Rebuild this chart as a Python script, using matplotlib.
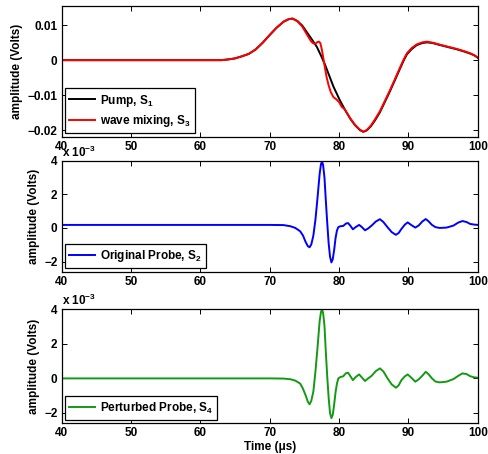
import numpy as np
import matplotlib
matplotlib.use('Agg')
import matplotlib.pyplot as plt

plt.rcParams['font.family'] = ['Liberation Sans', 'DejaVu Sans']
plt.rcParams['font.weight'] = 'bold'
plt.rcParams['axes.labelweight'] = 'bold'
plt.rcParams['font.size'] = 8.5
plt.rcParams['mathtext.fontset'] = 'custom'
plt.rcParams['mathtext.rm'] = 'Liberation Sans:bold'
plt.rcParams['mathtext.bf'] = 'Liberation Sans:bold'
plt.rcParams['mathtext.default'] = 'bf'

# pump S1 (volts)
t_pump = [40, 63, 64, 65, 66, 67, 68, 69, 70, 71, 72, 72.7, 73.3, 74, 74.7, 75.5, 76.2,
          76.8, 77.4, 78, 78.6, 79.2, 79.7, 80.1, 80.8, 81.6, 82.3, 83, 83.5, 84, 84.6,
          85.2, 85.9, 86.6, 87.3, 88, 88.8, 89.3, 89.8, 90.5, 91.2, 92, 92.7, 93.5, 94.6,
          96, 97, 98, 98.9, 99.5, 100]
pump = [0, 0, 0.0002, 0.0005, 0.0011, 0.0018, 0.0031, 0.0050, 0.0072, 0.0093, 0.0110,
        0.0117, 0.0119, 0.0112, 0.0099, 0.0076, 0.0056, 0.0038, 0.0013, -0.0014, -0.0045,
        -0.0076, -0.0097, -0.0114, -0.0140, -0.0167, -0.0186, -0.0200, -0.0205, -0.0201,
        -0.0189, -0.0172, -0.0149, -0.0120, -0.0091, -0.0060, -0.0024, -0.0002, 0.0017,
        0.0032, 0.0043, 0.0049, 0.0051, 0.0049, 0.0043, 0.0036, 0.0031, 0.0025, 0.0019,
        0.0014, 0.0007]

# wave mixing S3 (volts)
t_mix = [40, 63, 64, 65, 66, 67, 68, 69, 70, 71, 72, 72.7, 73.3, 74, 74.7, 75.5, 76.0,
         76.3, 76.6, 76.9, 77.1, 77.3, 77.5, 77.7, 78.0, 78.2, 78.5, 78.8, 79.2, 79.6, 80.0,
         80.4, 80.8, 81.6, 82.3, 83, 83.5, 84, 84.6, 85.2, 85.9, 86.6, 87.3, 88, 88.8,
         89.3, 89.8, 90.5, 91.2, 92, 92.7, 93.5, 94.6, 96, 97, 98, 98.9, 99.5, 100]
mix = [0, 0, 0.0002, 0.0005, 0.0011, 0.0018, 0.0031, 0.0050, 0.0072, 0.0093, 0.0110,
       0.0117, 0.0119, 0.0111, 0.0096, 0.0069, 0.0053, 0.0048, 0.0047, 0.0052, 0.0053,
       0.0049, 0.0032, 0.0010, -0.0025, -0.0048, -0.0072, -0.0091, -0.0106, -0.0112,
       -0.0120, -0.0134, -0.0140, -0.0166, -0.0185, -0.0199, -0.0205, -0.0200, -0.0187,
       -0.0169, -0.0146, -0.0117, -0.0088, -0.0057, -0.0021, 0.0001, 0.0020, 0.0035,
       0.0045, 0.0051, 0.0053, 0.0050, 0.0044, 0.0037, 0.0032, 0.0026, 0.0020, 0.0014,
       0.0008]

# time base for the probe traces (us)
t_probe = [40, 70, 72, 73, 73.7, 74.4, 74.8, 75.2, 75.5, 75.75, 76.0, 76.3, 76.6, 76.9,
           77.2, 77.4, 77.55, 77.7, 77.9, 78.1, 78.3, 78.5, 78.7, 78.9, 79.1, 79.3, 79.5,
           79.7, 79.9, 80.2, 80.6, 81.0, 81.3, 81.6, 82.0, 82.4, 82.9, 83.3, 83.75, 84.2,
           84.7, 85.3, 85.9, 86.4, 87.0, 87.6, 88.2, 88.6, 89.0, 89.5, 89.9, 90.4, 91.0,
           91.5, 92.0, 92.5, 92.9, 93.4, 93.9, 94.5, 95.5, 96.5, 97.2, 97.8, 98.4, 98.9,
           99.5, 100]

# original probe S2 (x 1e-3 volts)
probe = [0.18, 0.18, 0.17, 0.1, 0.0, -0.2, -0.45, -0.85, -1.08, -1.15, -0.98, -0.45, 0.5,
         1.8, 3.2, 3.8, 3.95, 3.75, 3.0, 1.6, 0.3, -0.9, -1.7, -2.05, -1.85, -1.3, -0.6,
         -0.15, 0.05, 0.1, 0.12, 0.26, 0.29, 0.15, -0.08, 0.05, 0.18, 0.05, -0.14, -0.03,
         0.14, 0.38, 0.52, 0.35, 0.04, -0.25, -0.41, -0.3, -0.06, 0.2, 0.33, 0.18, 0.02,
         0.15, 0.38, 0.53, 0.4, 0.18, 0.05, 0.0, 0.02, 0.14, 0.32, 0.41, 0.35, 0.24, 0.2,
         0.18]

# perturbed probe S4 (x 1e-3 volts)
pert = [0, 0, -0.01, -0.05, -0.13, -0.3, -0.6, -1.0, -1.35, -1.5, -1.3, -0.75, 0.4, 1.8,
        3.3, 3.85, 4.0, 3.8, 3.05, 1.5, 0.1, -1.1, -2.0, -2.3, -2.1, -1.5, -0.8, -0.3,
        0.0, 0.08, 0.12, 0.3, 0.33, 0.15, -0.1, 0.08, 0.23, 0.05, -0.15, 0.0, 0.15, 0.42,
        0.58, 0.4, 0.0, -0.35, -0.54, -0.4, -0.1, 0.12, 0.23, 0.05, -0.19, -0.05, 0.15,
        0.38, 0.25, 0.0, -0.18, -0.23, -0.19, -0.04, 0.15, 0.29, 0.25, 0.13, 0.06, 0.04]

fig = plt.figure(figsize=(4.88, 4.54), dpi=100)
ax1 = fig.add_axes([0.1264, 0.6982, 0.8525, 0.2886])
ax2 = fig.add_axes([0.1264, 0.4016, 0.8525, 0.2445])
ax3 = fig.add_axes([0.1264, 0.0676, 0.8525, 0.2511])

ax1.plot(t_pump, pump, color='black', lw=1.4, label='Pump, S$_1$')
ax1.plot(t_mix, mix, color='red', lw=1.4, label='wave mixing, S$_3$')
ax1.set_ylim(-0.022, 0.0155)
ax1.set_yticks([-0.02, -0.01, 0, 0.01])
ax1.set_yticklabels(['\u22120.02', '\u22120.01', '0', '0.01'])

ax2.plot(t_probe, probe, color='#0000ff', lw=1.4, label='Original Probe, S$_2$')
ax3.plot(t_probe, pert, color='#139a13', lw=1.4, label='Perturbed Probe, S$_4$')

for ax in (ax2, ax3):
    ax.set_ylim(-2.6, 4)
    ax.set_yticks([-2, 0, 2, 4])
    ax.text(0.0, 1.01, 'x 10$^{-3}$', transform=ax.transAxes, ha='left', va='bottom')

for ax in (ax1, ax2, ax3):
    ax.set_xlim(40, 100)
    ax.set_xticks(range(40, 101, 10))
    ax.tick_params(direction='in', top=True, right=True, length=3.5, width=0.7, pad=3)
    for s in ax.spines.values():
        s.set_linewidth(0.9)
    ax.set_ylabel('amplitude (Volts)', labelpad=3)
    leg = ax.legend(loc='lower left', fancybox=False, framealpha=1, edgecolor='black',
                    borderaxespad=0.3, handlelength=2.2, handletextpad=0.4,
                    borderpad=0.35, labelspacing=0.4)
    leg.get_frame().set_linewidth(0.9)

ax3.set_xlabel('Time (\u03bcs)', labelpad=1)

fig.savefig('out.png', dpi=100)
